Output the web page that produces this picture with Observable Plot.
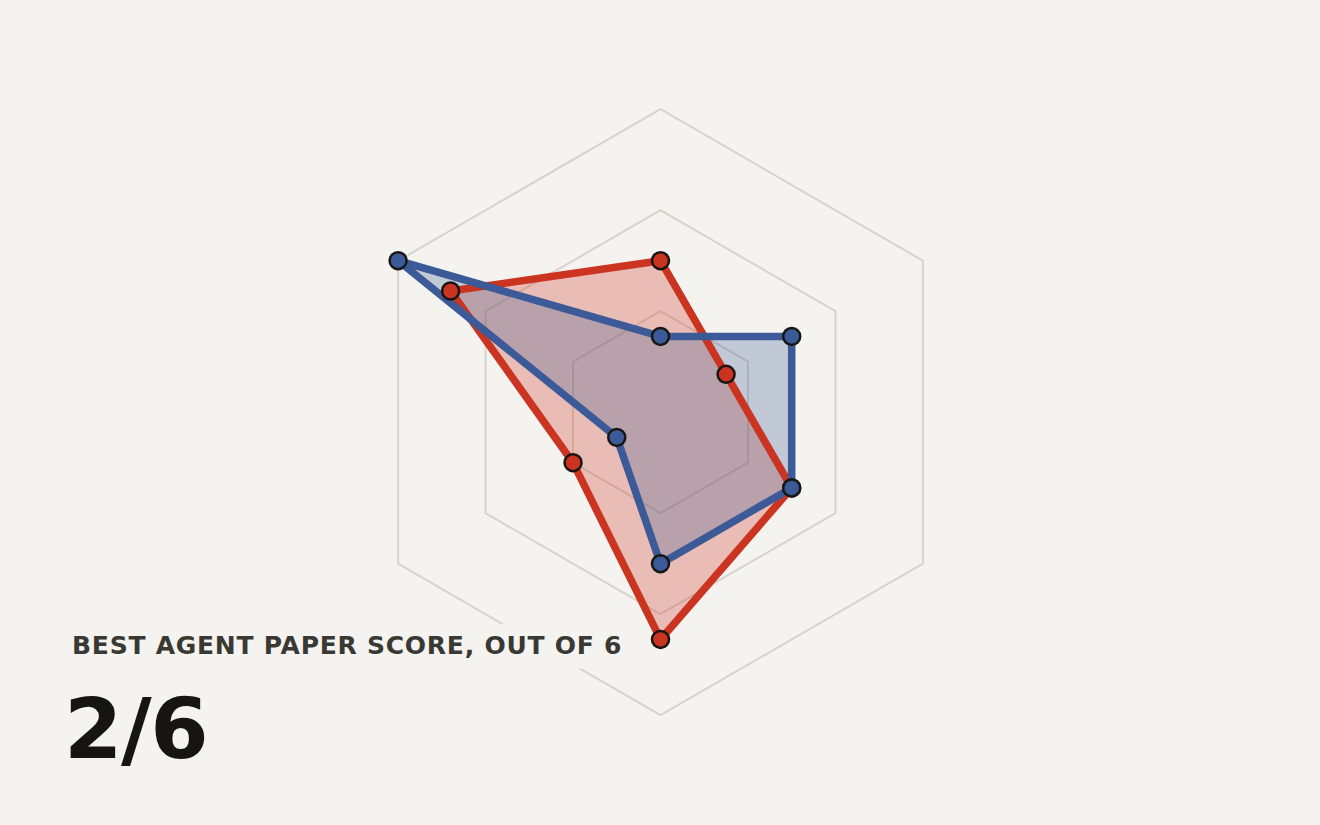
<!DOCTYPE html>
<html>
<head>
<meta charset="utf-8">
<script src="https://cdn.jsdelivr.net/npm/d3@7"></script>
<script src="https://cdn.jsdelivr.net/npm/@observablehq/plot@0.6"></script>
<style>
  html, body { margin: 0; padding: 0; background: #f4f3ef; }
  #wrap { position: relative; width: 1320px; height: 825px; overflow: hidden; }
  #chart svg { display: block; }
  #label {
    position: absolute; left: 60px; top: 624px; height: 45px; width: 580px;
    background: #f4f3ef; box-sizing: border-box; padding-left: 12px;
    font-family: "DejaVu Sans", sans-serif; font-weight: bold; font-size: 25px;
    color: #3a3833; line-height: 44px; letter-spacing: 0.75px; white-space: nowrap;
  }
  #big {
    position: absolute; left: 64px; top: 679px;
    font-family: "DejaVu Sans", sans-serif; font-weight: bold; font-size: 84px;
    color: #161512; line-height: 100px; letter-spacing: -1.5px; white-space: nowrap;
  }
</style>
</head>
<body>
<div id="wrap">
  <div id="chart"></div>
  <div id="label">BEST AGENT PAPER SCORE, OUT OF 6</div>
  <div id="big">2/6</div>
</div>
<script>
// Radar axes, clockwise from the top (labels are not shown in the chart)
const axes = ["Axis 1", "Axis 2", "Axis 3", "Axis 4", "Axis 5", "Axis 6"];
// Series values (0–6 scale)
const redValues = [3, 1.5, 3, 4.5, 2, 4.8];
const blueValues = [1.5, 3, 3, 3, 1, 6];
// Grid ring levels
const ringLevels = [2, 4, 6];

const seriesColors = {red: "#cb3421", blue: "#3d5a98"};

const angle = i => (i / axes.length) * 2 * Math.PI;
const toPoints = (vals, name) => vals.map((v, i) => ({
  series: name, axis: axes[i], value: v,
  x: v * Math.sin(angle(i)), y: v * Math.cos(angle(i))
}));

const redPts = toPoints(redValues, "red");
const bluePts = toPoints(blueValues, "blue");
const ringPts = ringLevels.flatMap(r => axes.map((a, i) => ({
  ring: r, x: r * Math.sin(angle(i)), y: r * Math.cos(angle(i))
})));

const W = 1320, H = 825, k = 50.5, cx = 660, cy = 411.7;

const chart = Plot.plot({
  width: W, height: H, margin: 0,
  style: {background: "#f4f3ef"},
  x: {domain: [-cx / k, (W - cx) / k], axis: null},
  y: {domain: [-(H - cy) / k, cy / k], axis: null},
  marks: [
    Plot.line(ringPts, {x: "x", y: "y", z: "ring", curve: "linear-closed",
      stroke: "#d6d4cc", strokeWidth: 2}),
    Plot.line(redPts, {x: "x", y: "y", curve: "linear-closed",
      fill: seriesColors.red, fillOpacity: 0.28, stroke: "none"}),
    Plot.line(bluePts, {x: "x", y: "y", curve: "linear-closed",
      fill: seriesColors.blue, fillOpacity: 0.28, stroke: "none"}),
    Plot.line(redPts, {x: "x", y: "y", curve: "linear-closed",
      stroke: seriesColors.red, strokeWidth: 7.5, strokeLinejoin: "miter"}),
    Plot.line(bluePts, {x: "x", y: "y", curve: "linear-closed",
      stroke: seriesColors.blue, strokeWidth: 7.5, strokeLinejoin: "miter"}),
    Plot.dot(redPts, {x: "x", y: "y", r: 8.5, fill: seriesColors.red,
      stroke: "#171612", strokeWidth: 2.5}),
    Plot.dot(bluePts, {x: "x", y: "y", r: 8.5, fill: seriesColors.blue,
      stroke: "#171612", strokeWidth: 2.5})
  ]
});
document.getElementById("chart").appendChild(chart);
</script>
</body>
</html>
